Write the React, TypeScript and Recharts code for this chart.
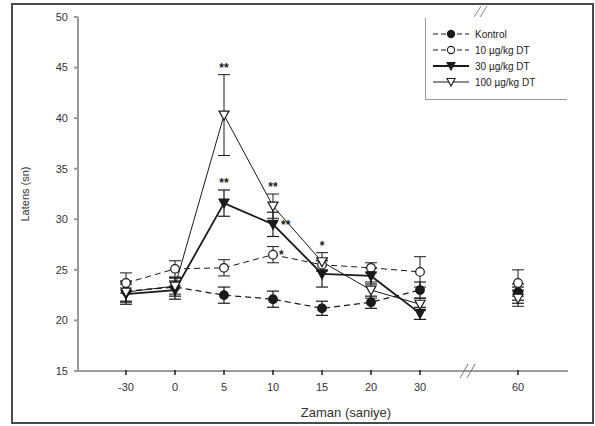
import React from 'react';
import {
  LineChart, Line, XAxis, YAxis, ErrorBar, LabelList, ReferenceDot,
} from 'recharts';

// time points (s); the blank slot is the axis break before 60
const times = ['-30', '0', '5', '10', '15', '20', '30', ' ', '60'];
const yTicks = [15, 20, 25, 30, 35, 40, 45, 50];

const kontrol = [22.9, 23.3, 22.5, 22.1, 21.2, 21.8, 23.0, null, 22.8];
const kontrolErr = [1.0, 0.9, 0.8, 0.8, 0.7, 0.6, 0.8, null, 0.8];
const dt10 = [23.7, 25.1, 25.2, 26.5, 25.5, 25.2, 24.8, null, 23.7];
const dt10Err = [1.0, 0.8, 0.8, 0.8, 0.6, 0.5, 1.5, null, 1.3];
const dt30 = [22.6, 23.0, 31.6, 29.5, 24.6, 24.4, 20.7, null, 22.5];
const dt30Err = [1.0, 0.9, 1.3, 1.2, 1.3, 0.8, 0.6, null, 0.8];
const dt100 = [22.8, 23.4, 40.3, 31.3, 25.8, 23.0, 21.6, null, 22.2];
const dt100Err = [1.0, 0.8, 4.0, 1.2, 0.9, 0.8, 0.6, null, 0.8];

// significance marks
const sig100 = ['', '', '**', '**', '*', '', '', '', ''];
const sig30Top = ['', '', '**', '', '', '', '', '', ''];
const sig30Side = ['', '', '', '**', '', '', '', '', ''];
const sig10Side = ['', '', '', '*', '', '', '', '', ''];

const hi = (v: (number | null)[], e: (number | null)[]) =>
  v.map((x, i) => (x == null ? null : x + (e[i] as number)));

const rows = times.map((t, i) => ({
  t,
  k: kontrol[i], kErr: kontrolErr[i],
  d10: dt10[i], d10Err: dt10Err[i],
  d30: dt30[i], d30Err: dt30Err[i],
  d100: dt100[i], d100Err: dt100Err[i],
  hi100: hi(dt100, dt100Err)[i],
  hi30: hi(dt30, dt30Err)[i],
  sig100: sig100[i], sig30Top: sig30Top[i], sig30Side: sig30Side[i], sig10Side: sig10Side[i],
}));

const FONT = '"Liberation Sans", Arial, sans-serif';
const INK = '#1a1a1a';
const AXIS = '#9a9a9a';

const circleDot = (fill: string) => (p: any) =>
  p.cy == null ? <g key={p.index} /> : (
    <circle key={p.index} cx={p.cx} cy={p.cy} r={4.3} fill={fill} stroke={INK} strokeWidth={1.2} />
  );

const triDot = (fill: string) => (p: any) =>
  p.cy == null ? <g key={p.index} /> : (
    <polygon key={p.index}
      points={`${p.cx - 5},${p.cy - 4} ${p.cx + 5},${p.cy - 4} ${p.cx},${p.cy + 5}`}
      fill={fill} stroke={INK} strokeWidth={1.2} />
  );

const XTick = ({ x, y, payload }: any) => {
  if (!String(payload.value).trim()) return <g />;
  return (
    <g>
      <line x1={x} x2={x} y1={y - 1} y2={y + 4} stroke={INK} strokeWidth={1.5} />
      <text x={x} y={y + 20} textAnchor="middle" fontSize={11} fill="#333" fontFamily={FONT}>
        {payload.value}
      </text>
    </g>
  );
};

const BreakMark = (p: any) => (
  <g>
    <line x1={p.cx - 9} y1={p.cy + 7} x2={p.cx - 1} y2={p.cy - 7} stroke="#777" strokeWidth={1} />
    <line x1={p.cx - 2} y1={p.cy + 7} x2={p.cx + 6} y2={p.cy - 7} stroke="#777" strokeWidth={1} />
  </g>
);

const legendItems = [
  { name: 'Kontrol', dash: '5 3', marker: 'circle', fill: INK, w: 1.2 },
  { name: '10 µg/kg DT', dash: '5 3', marker: 'circle', fill: '#fff', w: 1 },
  { name: '30 µg/kg DT', dash: undefined, marker: 'tri', fill: INK, w: 1.8 },
  { name: '100 µg/kg DT', dash: undefined, marker: 'tri', fill: '#fff', w: 1 },
];

function LegendBox() {
  return (
    <div style={{
      position: 'absolute', left: 425, top: 18, width: 142, height: 82,
      borderLeft: `1px solid ${AXIS}`, borderBottom: `1px solid ${AXIS}`,
      background: '#fff', boxSizing: 'border-box', paddingTop: 8, paddingLeft: 6,
      fontFamily: FONT, fontSize: 10, color: '#222',
    }}>
      {legendItems.map((it) => (
        <div key={it.name} style={{ display: 'flex', alignItems: 'center', height: 16 }}>
          <svg width={38} height={12} style={{ marginRight: 5 }}>
            <line x1={1} x2={37} y1={6} y2={6} stroke={INK} strokeWidth={it.w} strokeDasharray={it.dash} />
            {it.marker === 'circle'
              ? <circle cx={19} cy={6} r={3.6} fill={it.fill} stroke={INK} strokeWidth={1.1} />
              : <polygon points="15,2.5 23,2.5 19,10" fill={it.fill} stroke={INK} strokeWidth={1.1} />}
          </svg>
          <span>{it.name}</span>
        </div>
      ))}
    </div>
  );
}

const sigStyle = { fontSize: 12, fontWeight: 700, fill: INK, fontFamily: FONT };

export default function App() {
  return (
    <div style={{ position: 'fixed', left: 0, top: 0, width: 595, height: 426, background: '#fff' }}>
      <div style={{
        position: 'absolute', left: 11, top: 3, width: 583, height: 421,
        border: '2px solid #4a4a4a', boxSizing: 'border-box',
      }} />
      <div style={{ position: 'absolute', left: 0, top: 0 }}>
        <LineChart width={595} height={426} data={rows}
          margin={{ top: 17, right: 27, bottom: 0, left: 0 }}>
          <XAxis dataKey="t" padding={{ left: 48, right: 50 }} tickLine={false}
            tickSize={0} tickMargin={0} height={55} stroke={AXIS} strokeWidth={2}
            tick={<XTick />} interval={0}
            label={{ value: 'Zaman (saniye)', position: 'insideBottom', offset: 9, dx: 23,
              fontSize: 13, fill: '#333', fontFamily: FONT }} />
          <XAxis xAxisId="top" orientation="top" dataKey="t" height={0} tick={false}
            tickLine={false} stroke={AXIS} strokeWidth={2} />
          <YAxis domain={[15, 50]} ticks={yTicks} width={78} stroke={AXIS} strokeWidth={2}
            tickSize={4} tickMargin={6} interval={0}
            tick={{ fontSize: 11, fill: '#333', fontFamily: FONT }}
            label={{ value: 'Latens (sn)', angle: -90, position: 'insideLeft', offset: 25,
              fontSize: 11, fill: '#333', fontFamily: FONT, style: { textAnchor: 'middle' } }} />
          <YAxis yAxisId="right" orientation="right" domain={[15, 50]} width={0} tick={false}
            tickLine={false} stroke={AXIS} strokeWidth={2} />

          <Line dataKey="k" stroke={INK} strokeWidth={1.2} strokeDasharray="6 4"
            dot={circleDot(INK)} activeDot={false} isAnimationActive={false}>
            <ErrorBar dataKey="kErr" width={6} stroke={INK} strokeWidth={1.2} direction="y" />
          </Line>
          <Line dataKey="d10" stroke={INK} strokeWidth={1} strokeDasharray="6 4"
            dot={circleDot('#fff')} activeDot={false} isAnimationActive={false}>
            <ErrorBar dataKey="d10Err" width={6} stroke={INK} strokeWidth={1} direction="y" />
            <LabelList dataKey="sig10Side" position="right" offset={6} {...sigStyle} />
          </Line>
          <Line dataKey="d30" stroke={INK} strokeWidth={1.8}
            dot={triDot(INK)} activeDot={false} isAnimationActive={false}>
            <ErrorBar dataKey="d30Err" width={6} stroke={INK} strokeWidth={1.2} direction="y" />
            <LabelList dataKey="sig30Side" position="right" offset={8} {...sigStyle} />
          </Line>
          <Line dataKey="d100" stroke={INK} strokeWidth={1}
            dot={triDot('#fff')} activeDot={false} isAnimationActive={false}>
            <ErrorBar dataKey="d100Err" width={6} stroke={INK} strokeWidth={1} direction="y" />
          </Line>

          <Line dataKey="hi100" stroke="none" dot={false} activeDot={false} isAnimationActive={false}>
            <LabelList dataKey="sig100" position="top" offset={3} {...sigStyle} />
          </Line>
          <Line dataKey="hi30" stroke="none" dot={false} activeDot={false} isAnimationActive={false}>
            <LabelList dataKey="sig30Top" position="top" offset={3} {...sigStyle} />
          </Line>

          <ReferenceDot x=" " y={15} r={0} shape={BreakMark} />
        </LineChart>
      </div>
      <svg style={{ position: 'absolute', left: 0, top: 0 }} width={595} height={426}>
        <line x1={474} y1={17} x2={481} y2={6} stroke="#888" strokeWidth={1} />
        <line x1={480} y1={17} x2={487} y2={6} stroke="#888" strokeWidth={1} />
      </svg>
      <LegendBox />
    </div>
  );
}
